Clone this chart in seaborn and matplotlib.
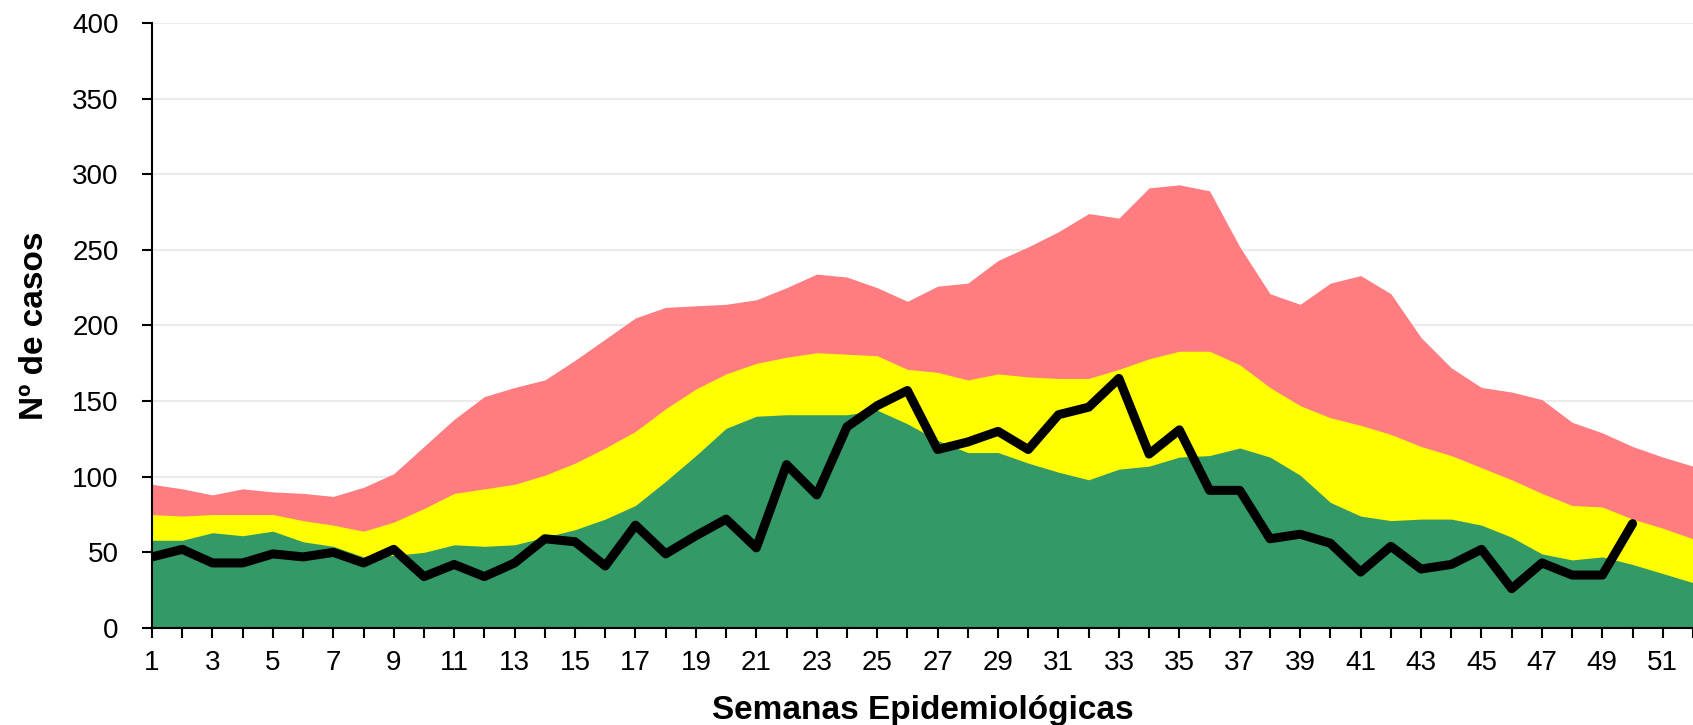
import matplotlib
matplotlib.use("Agg")
import matplotlib.pyplot as plt
import seaborn as sns
import pandas as pd

# weekly series
weeks = list(range(1, 53))
epidemia = [95, 92, 88, 92, 90, 89, 87, 93, 102, 120, 138, 153, 159, 164, 177, 191,
            205, 212, 213, 214, 217, 225, 234, 232, 225, 216, 226, 228, 243, 252, 262, 274,
            271, 291, 293, 289, 252, 221, 214, 228, 233, 221, 192, 172, 159, 156, 151, 136,
            129, 120, 113, 107]
alerta = [75, 74, 75, 75, 75, 71, 68, 64, 70, 79, 89, 92, 95, 101, 109, 119,
          130, 145, 158, 168, 175, 179, 182, 181, 180, 171, 169, 164, 168, 166, 165, 165,
          171, 178, 183, 183, 174, 159, 147, 139, 134, 128, 120, 114, 106, 98, 89, 81,
          80, 72, 66, 59]
seguridad = [58, 58, 63, 61, 64, 57, 54, 47, 48, 50, 55, 54, 55, 60, 65, 72,
             81, 97, 114, 132, 140, 141, 141, 141, 144, 135, 124, 116, 116, 109, 103, 98,
             105, 107, 113, 114, 119, 113, 101, 83, 74, 71, 72, 72, 68, 60, 49, 45,
             47, 42, 36, 30]
casos_weeks = list(range(1, 51))
casos = [47, 52, 43, 43, 49, 47, 50, 43, 52, 34, 42, 34, 43, 59, 57, 41,
         68, 49, 61, 72, 53, 108, 88, 133, 147, 157, 118, 123, 130, 118, 141, 146,
         165, 115, 131, 91, 91, 59, 62, 56, 37, 54, 39, 42, 52, 26, 43, 35,
         35, 69]

sns.set_style("white")
plt.rcParams['font.family'] = ['Liberation Sans', 'DejaVu Sans']

fig = plt.figure(figsize=(16.93, 7.25), dpi=100)
ax = fig.add_axes([0.0898, 0.1338, 0.9102, 0.8345])

ax.fill_between(weeks, 0, epidemia, color='#FF7C80', lw=0, zorder=2)
ax.fill_between(weeks, 0, alerta, color='#FFFF00', lw=0, zorder=3)
ax.fill_between(weeks, 0, seguridad, color='#339966', lw=0, zorder=4)

df = pd.DataFrame({'semana': casos_weeks, 'casos': casos})
sns.lineplot(data=df, x='semana', y='casos', color='black', linewidth=6.5,
             solid_capstyle='round', ax=ax, zorder=5)

ax.set_xlim(1, 51.76)
ax.set_ylim(0, 400)
ax.set_yticks(range(0, 401, 50))
ax.set_xticks(weeks)
ax.set_xticklabels([str(w) if w % 2 == 1 else '' for w in weeks])
ax.tick_params(axis='both', direction='out', length=7, width=1.5, labelsize=20,
               colors='black', bottom=True, left=True)
ax.tick_params(axis='x', pad=9)
ax.tick_params(axis='y', pad=17)
ax.yaxis.grid(True, color='#EBEBEB', lw=1.5, zorder=0)
ax.set_axisbelow(True)

for s in ['top', 'right']:
    ax.spines[s].set_visible(False)
for s in ['left', 'bottom']:
    ax.spines[s].set_color('black')
    ax.spines[s].set_linewidth(1.5)
    ax.spines[s].set_zorder(6)

ax.set_xlabel('Semanas Epidemiológicas', fontsize=24, fontweight='bold',
              color='black')
ax.xaxis.set_label_coords(0.5, -0.111)
ax.set_ylabel('Nº de casos', fontsize=24, fontweight='bold',
              color='black', labelpad=16)

fig.savefig('out.png', dpi=100)
